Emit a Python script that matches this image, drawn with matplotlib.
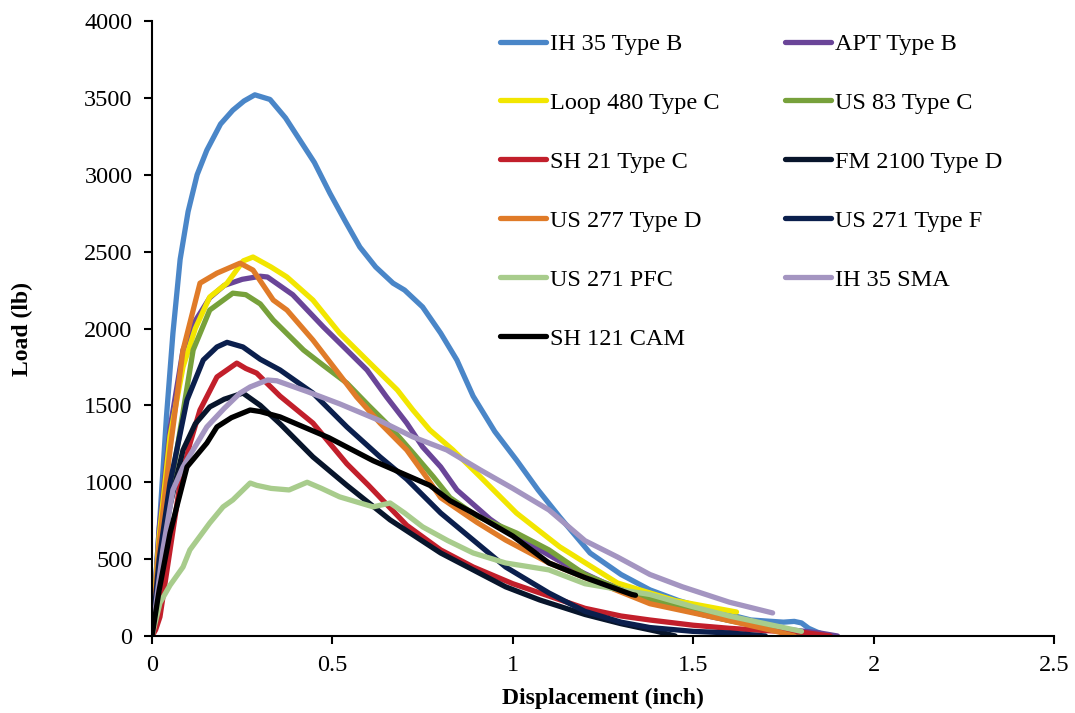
import matplotlib
matplotlib.use("Agg")
import matplotlib.pyplot as plt

plt.rcParams['font.family'] = ['Liberation Serif', 'DejaVu Serif']

# Kurven: Verschiebung (inch) und Last (lb)
ih35b_x = [0, 0.022, 0.04, 0.058, 0.078, 0.1, 0.125, 0.152, 0.19, 0.224, 0.255, 0.285, 0.327, 0.37, 0.41,
           0.45, 0.493, 0.535, 0.576, 0.62, 0.668, 0.70, 0.75, 0.80, 0.845, 0.89, 0.95, 1.01, 1.07, 1.13,
           1.214, 1.30, 1.38, 1.46, 1.55, 1.66, 1.75, 1.78, 1.80, 1.82, 1.843, 1.86]
ih35b_y = [0, 774, 1425, 1970, 2450, 2760, 3000, 3160, 3330, 3420, 3480, 3520, 3490, 3370, 3225,
           3080, 2880, 2700, 2530, 2400, 2295, 2250, 2140, 1970, 1795, 1560, 1330, 1145, 950, 774,
           540, 400, 300, 230, 169, 104, 90, 95, 85, 50, 26, 10]

apt_x = [0, 0.02, 0.05, 0.086, 0.12, 0.16, 0.2, 0.25, 0.3, 0.32, 0.39, 0.475, 0.54, 0.596, 0.65, 0.706,
         0.75, 0.80, 0.845, 0.937, 1.01, 1.075, 1.15, 1.25, 1.35, 1.45, 1.55, 1.65, 1.75, 1.85, 1.90]
apt_y = [0, 700, 1350, 1860, 2050, 2200, 2280, 2320, 2340, 2335, 2220, 2010, 1860, 1730, 1555, 1385,
         1230, 1100, 950, 760, 640, 560, 460, 350, 260, 185, 125, 80, 45, 20, 0]

loop480_x = [0, 0.02, 0.05, 0.086, 0.12, 0.16, 0.208, 0.253, 0.28, 0.33, 0.374, 0.446, 0.52, 0.604,
             0.68, 0.723, 0.77, 0.834, 0.91, 1.01, 1.13, 1.29, 1.38, 1.45, 1.62]
loop480_y = [0, 650, 1300, 1750, 2000, 2205, 2295, 2440, 2465, 2400, 2335, 2185, 1970, 1775,
             1600, 1470, 1340, 1210, 1035, 800, 580, 345, 280, 230, 156]

us83_x = [0, 0.02, 0.045, 0.069, 0.114, 0.16, 0.224, 0.26, 0.30, 0.336, 0.42, 0.475, 0.54, 0.60,
          0.66, 0.72, 0.78, 0.826, 0.90, 1.01, 1.10, 1.2, 1.3, 1.38, 1.5, 1.6, 1.7, 1.8]
us83_y = [0, 500, 900, 1210, 1860, 2120, 2230, 2220, 2160, 2055, 1860, 1760, 1645, 1500,
          1360, 1200, 1035, 900, 780, 670, 560, 400, 300, 240, 160, 100, 55, 15]

sh21_x = [0, 0.01, 0.022, 0.05, 0.078, 0.105, 0.133, 0.18, 0.235, 0.26, 0.29, 0.355, 0.446, 0.54,
          0.6, 0.706, 0.80, 0.89, 1.0, 1.075, 1.2, 1.3, 1.38, 1.5, 1.6, 1.7, 1.8, 1.88]
sh21_y = [0, 40, 124, 560, 995, 1250, 1470, 1685, 1775, 1740, 1710, 1560, 1385, 1120,
          980, 720, 560, 449, 340, 280, 180, 130, 104, 70, 50, 35, 25, 0]

fm2100_x = [0, 0.02, 0.05, 0.086, 0.12, 0.16, 0.2, 0.252, 0.3, 0.355, 0.446, 0.54, 0.66, 0.80,
            0.98, 1.075, 1.2, 1.3, 1.4, 1.45]
fm2100_y = [0, 450, 850, 1210, 1380, 1490, 1540, 1580, 1500, 1380, 1165, 980, 755, 540,
            320, 234, 140, 80, 30, 0]

us277_x = [0, 0.02, 0.05, 0.086, 0.133, 0.18, 0.244, 0.28, 0.336, 0.374, 0.446, 0.51, 0.567, 0.632,
           0.706, 0.76, 0.80, 0.90, 0.98, 1.10, 1.2, 1.38, 1.5, 1.6, 1.73, 1.78]
us277_y = [0, 600, 1210, 1860, 2295, 2360, 2425, 2380, 2185, 2120, 1925, 1730, 1555, 1385,
           1210, 1035, 900, 740, 624, 475, 380, 210, 150, 100, 30, 0]

us271f_x = [0, 0.02, 0.05, 0.097, 0.142, 0.18, 0.208, 0.252, 0.3, 0.355, 0.446, 0.54, 0.632, 0.706,
            0.80, 0.98, 1.1, 1.2, 1.3, 1.38, 1.5, 1.6, 1.7]
us271f_y = [0, 500, 995, 1535, 1795, 1880, 1910, 1880, 1800, 1730, 1580, 1360, 1165, 1020,
            800, 449, 280, 160, 90, 55, 30, 20, 0]

pfc_x = [0, 0.022, 0.05, 0.086, 0.105, 0.16, 0.197, 0.224, 0.272, 0.29, 0.33, 0.38, 0.43, 0.47, 0.52,
         0.57, 0.613, 0.66, 0.70, 0.75, 0.82, 0.89, 0.98, 1.1, 1.2, 1.3, 1.38, 1.5, 1.6, 1.7, 1.8]
pfc_y = [0, 215, 330, 449, 560, 735, 840, 885, 995, 980, 960, 950, 1000, 960, 905,
         870, 840, 865, 800, 710, 620, 540, 475, 430, 340, 300, 270, 190, 130, 80, 30]

sma_x = [0, 0.03, 0.058, 0.086, 0.152, 0.2, 0.244, 0.272, 0.32, 0.346, 0.43, 0.52, 0.632, 0.723,
         0.817, 0.91, 1.0, 1.1, 1.2, 1.29, 1.38, 1.47, 1.6, 1.72]
sma_y = [0, 560, 950, 1100, 1360, 1480, 1580, 1620, 1665, 1660, 1590, 1510, 1400, 1295,
         1210, 1080, 960, 820, 620, 514, 400, 320, 220, 150]

sh121_x = [0, 0.02, 0.05, 0.097, 0.152, 0.18, 0.22, 0.272, 0.3, 0.355, 0.42, 0.49, 0.613, 0.77,
           0.826, 0.89, 1.0, 1.1, 1.2, 1.33, 1.34]
sh121_y = [0, 300, 670, 1100, 1255, 1360, 1420, 1470, 1460, 1425, 1360, 1290, 1140, 980,
           880, 800, 650, 475, 380, 270, 265]

labels = ['IH 35 Type B', 'APT Type B', 'Loop 480 Type C', 'US 83 Type C', 'SH 21 Type C',
          'FM 2100 Type D', 'US 277 Type D', 'US 271 Type F', 'US 271 PFC', 'IH 35 SMA', 'SH 121 CAM']
colors = ['#4a86c8', '#6a4598', '#f2e600', '#77a13b', '#c21f2b',
          '#08152b', '#e07b28', '#0b1f4d', '#a8cc8c', '#a495c1', '#000000']
xs = [ih35b_x, apt_x, loop480_x, us83_x, sh21_x, fm2100_x, us277_x, us271f_x, pfc_x, sma_x, sh121_x]
ys = [ih35b_y, apt_y, loop480_y, us83_y, sh21_y, fm2100_y, us277_y, us271f_y, pfc_y, sma_y, sh121_y]

fig = plt.figure(figsize=(10.75, 7.13), dpi=100)
ax = fig.add_axes([0.1414, 0.108, 0.8391, 0.8625])

lines = []
for x, y, c, lab in zip(xs, ys, colors, labels):
    l, = ax.plot(x, y, color=c, lw=3.8, label=lab, solid_capstyle='round')
    lines.append(l)

ax.set_xlim(0, 2.5)
ax.set_ylim(0, 4000)
ax.set_xticks([0, 0.5, 1, 1.5, 2, 2.5])
ax.set_xticklabels(['0', '0.5', '1', '1.5', '2', '2.5'])
ax.set_yticks(range(0, 4001, 500))
ax.spines['top'].set_visible(False)
ax.spines['right'].set_visible(False)
ax.spines['left'].set_linewidth(1.5)
ax.spines['bottom'].set_linewidth(1.5)
ax.tick_params(direction='out', length=6, width=1.5, labelsize=17.5, pad=8)

ax.set_xlabel('Displacement (inch)', fontsize=17, fontweight='bold', labelpad=8)
ax.set_ylabel('Load (lb)', fontsize=17, fontweight='bold', labelpad=37)

# Legende zeilenweise in zwei Spalten
order = [0, 2, 4, 6, 8, 10, 1, 3, 5, 7, 9]
fig.legend([lines[i] for i in order], [labels[i] for i in order], ncol=2, frameon=False,
           loc='upper left', bbox_to_anchor=(500 / 1075, 1 - 33 / 713), fontsize=17.5,
           handlelength=1.9, handletextpad=0.15, labelspacing=1.52, columnspacing=2.7,
           borderpad=0, borderaxespad=0)

fig.savefig('out.png', dpi=100)
